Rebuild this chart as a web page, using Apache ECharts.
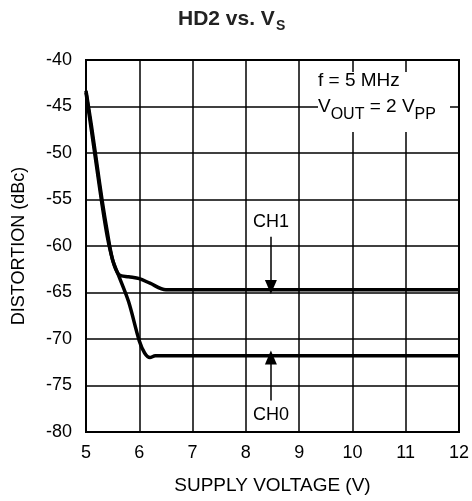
<!DOCTYPE html>
<html><head><meta charset="utf-8">
<script src="https://cdn.jsdelivr.net/npm/echarts@6/dist/echarts.min.js"></script>
<style>html,body{margin:0;padding:0;background:#fff}#c{width:472px;height:501px}</style>
</head><body><div id="c"></div>
<script>
// ---- data ----
const ch1X = [5.0, 5.1, 5.2, 5.3, 5.4, 5.5, 5.62, 5.8, 6.0, 6.2, 6.5, 12.0];
const ch1Y = [-43.3, -47.0, -51.0, -55.0, -58.5, -61.5, -63.1, -63.3, -63.5, -64.0, -64.7, -64.7];
const ch0X = [5.0, 5.1, 5.2, 5.3, 5.4, 5.5, 5.6, 5.8, 6.0, 6.1, 6.2, 6.3, 12.0];
const ch0Y = [-43.5, -47.5, -51.5, -55.5, -59.0, -61.5, -63.0, -66.0, -70.2, -71.5, -72.0, -71.8, -71.8];
const xTicks = [5, 6, 7, 8, 9, 10, 11, 12];
const yTicks = [-80, -75, -70, -65, -60, -55, -50, -45, -40];
const ch1Arrow = [[8.47, -59.0], [8.47, -64.4]];
const ch0Arrow = [[8.47, -76.6], [8.47, -72.0]];
const ch1Label = [8.47, -57.4];
const ch0Label = [8.47, -78.2];

const FONT = 'Liberation Sans, Arial, sans-serif';
const pairs = (xs, ys) => xs.map((x, i) => [x, ys[i]]);

const chart = echarts.init(document.getElementById('c'), null, {renderer: 'canvas'});
chart.setOption({
  animation: false,
  backgroundColor: '#fff',
  textStyle: {fontFamily: FONT},
  grid: {left: 86, right: 13, top: 60, bottom: 69, show: true, borderColor: '#000', borderWidth: 2, backgroundColor: 'transparent'},
  xAxis: {
    type: 'value', min: xTicks[0], max: xTicks[xTicks.length - 1], interval: 1,
    name: 'SUPPLY VOLTAGE (V)', nameLocation: 'middle', nameGap: 44,
    nameTextStyle: {fontSize: 19, color: '#000', fontFamily: FONT},
    axisLine: {show: true, lineStyle: {color: '#000', width: 2}},
    axisTick: {show: false},
    axisLabel: {fontSize: 18, color: '#000', margin: 12, fontFamily: FONT},
    splitLine: {show: true, lineStyle: {color: '#000', width: 1.5}}
  },
  yAxis: {
    type: 'value', min: yTicks[0], max: yTicks[yTicks.length - 1], interval: 5,
    name: 'DISTORTION (dBc)', nameLocation: 'middle', nameGap: 58,
    nameTextStyle: {fontSize: 18, color: '#000', fontFamily: FONT},
    axisLine: {show: true, lineStyle: {color: '#000', width: 2}},
    axisTick: {show: false},
    axisLabel: {fontSize: 18, color: '#000', margin: 14, fontFamily: FONT},
    splitLine: {show: true, lineStyle: {color: '#000', width: 1.5}}
  },
  series: [
    {
      name: 'CH1', type: 'line', data: pairs(ch1X, ch1Y), smooth: 0.3, symbol: 'none',
      lineStyle: {color: '#000', width: 3.5}, z: 5,
      markLine: {
        silent: true, symbol: ['none', 'triangle'], symbolSize: [12, 14],
        lineStyle: {color: '#000', width: 1.5, type: 'solid'}, label: {show: false},
        data: [[{coord: ch1Arrow[0]}, {coord: ch1Arrow[1]}], [{coord: ch0Arrow[0]}, {coord: ch0Arrow[1]}]]
      },
      markPoint: {
        silent: true, symbol: 'circle', symbolSize: 1, itemStyle: {color: 'transparent'},
        label: {show: true, position: 'inside', color: '#000', fontSize: 18, fontFamily: FONT},
        data: [{coord: ch1Label, value: 'CH1'}, {coord: ch0Label, value: 'CH0'}]
      }
    },
    {
      name: 'CH0', type: 'line', data: pairs(ch0X, ch0Y), smooth: 0.3, symbol: 'none',
      lineStyle: {color: '#000', width: 3.5}, z: 5
    }
  ],
  graphic: [
    {type: 'rect', shape: {x: 318, y: 72, width: 132, height: 60}, style: {fill: '#fff'}, z: 50},
    {type: 'text', x: 318, y: 71, z: 60, style: {text: 'f = 5 MHz', font: '19px ' + FONT, fill: '#000'}},
    {type: 'text', x: 318, y: 97, z: 60, style: {
      text: '{m|V}{s|OUT}{m| = 2 V}{s|PP}', fill: '#000',
      rich: {
        m: {fontSize: 19, fontFamily: FONT, verticalAlign: 'top', lineHeight: 20},
        s: {fontSize: 16, fontFamily: FONT, verticalAlign: 'top', padding: [10, 0, 0, 0], lineHeight: 18}
      }
    }},
    {type: 'text', x: 178, y: 9, z: 60, style: {
      text: '{m|HD2 vs. V}{s|S}', fill: '#222',
      rich: {
        m: {fontSize: 21, fontWeight: 'bold', fontFamily: FONT, verticalAlign: 'top', lineHeight: 23},
        s: {fontSize: 14, fontWeight: 'bold', fontFamily: FONT, verticalAlign: 'top', padding: [10, 0, 0, 1], lineHeight: 16}
      }
    }}
  ]
});
</script></body></html>
